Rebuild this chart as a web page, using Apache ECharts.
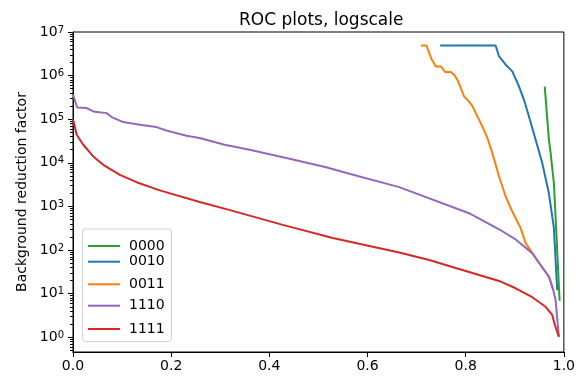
<!DOCTYPE html>
<html>
<head>
<meta charset="utf-8">
<script src="https://cdn.jsdelivr.net/npm/echarts@6/dist/echarts.min.js"></script>
<style>html,body{margin:0;padding:0;background:#fff;}#c{width:578px;height:376px;}</style>
</head>
<body>
<div id="c"></div>
<script>
// ---- data ----
const names = ['0000', '0010', '0011', '1110', '1111'];
const colors = ['#2ca02c', '#1f77b4', '#ff7f0e', '#9467bd', '#d62728'];

const x0000 = [0.961, 0.9695, 0.973, 0.9797, 0.9844, 0.9913];
const y0000 = [5.6e5, 3.4e4, 1.7e4, 3.4e3, 290, 6.9];

const x0010 = [0.748, 0.861, 0.868, 0.8815, 0.895, 0.9085, 0.9187, 0.9289, 0.9425, 0.9559, 0.9695, 0.9797, 0.9864];
const y0010 = [4.9e6, 4.9e6, 2.75e6, 1.78e6, 1.25e6, 5.65e5, 2.79e5, 1.16e5, 3.37e4, 9.9e3, 2.0e3, 3.2e2, 12];

const x0011 = [0.7087, 0.7202, 0.727, 0.7311, 0.7392, 0.7494, 0.7581, 0.7697, 0.7764, 0.7832, 0.79, 0.7967, 0.8035, 0.8137, 0.8238, 0.834, 0.8442, 0.8543, 0.8679, 0.8815, 0.8949, 0.912, 0.9221, 0.9478, 0.9695, 0.9783];
const y0011 = [4.9e6, 4.9e6, 3.0e6, 2.3e6, 1.62e6, 1.62e6, 1.21e6, 1.21e6, 1.05e6, 8.0e5, 5.2e5, 3.3e5, 2.8e5, 2.0e5, 1.16e5, 6.8e4, 3.7e4, 1.67e4, 4.85e3, 1.69e3, 764, 318, 144, 54, 24.6, 12.2];

const x1110 = [0, 0.0087, 0.0278, 0.0413, 0.0685, 0.0787, 0.1022, 0.1362, 0.1701, 0.1904, 0.2311, 0.2581, 0.3089, 0.3598, 0.4411, 0.5157, 0.563, 0.6646, 0.8069, 0.8679, 0.9018, 0.9356, 0.9478, 0.9695, 0.9783, 0.9831, 0.9898];
const y1110 = [3.64e5, 1.86e5, 1.8e5, 1.51e5, 1.38e5, 1.12e5, 8.6e4, 7.5e4, 6.6e4, 5.5e4, 4.2e4, 3.7e4, 2.6e4, 2.0e4, 1.24e4, 7.9e3, 5.6e3, 2.77e3, 700, 300, 175, 85, 54, 24.6, 12.2, 7.2, 1.03];

const x1111 = [0, 0.0075, 0.0209, 0.0413, 0.0616, 0.0955, 0.1295, 0.1768, 0.2581, 0.3124, 0.4274, 0.5291, 0.6646, 0.7256, 0.7933, 0.8679, 0.9018, 0.9356, 0.9628, 0.9762, 0.9817, 0.9898];
const y1111 = [1.0e5, 4.4e4, 2.6e4, 1.4e4, 9.0e3, 5.3e3, 3.6e3, 2.34e3, 1.27e3, 867, 378, 190, 88, 59, 35, 19.6, 13.3, 8.3, 5.0, 3.25, 1.92, 1.03];

const xTicks = [0, 0.2, 0.4, 0.6, 0.8, 1.0];
const yMajor = [1, 10, 100, 1e3, 1e4, 1e5, 1e6, 1e7];
const yMinor = [0.5, 0.6, 0.7, 0.8, 0.9];
for (let e = 0; e < 7; e++) for (let m = 2; m <= 9; m++) yMinor.push(m * Math.pow(10, e));

const xs = [x0000, x0010, x0011, x1110, x1111];
const ys = [y0000, y0010, y0011, y1110, y1111];

// ---- chart ----
const FONT = 'DejaVu Sans';
const chart = echarts.init(document.getElementById('c'), null, {renderer: 'canvas'});

const series = names.map((n, i) => ({
  name: n,
  type: 'line',
  data: xs[i].map((x, j) => [x, ys[i][j]]),
  xAxisIndex: 0,
  yAxisIndex: 0,
  symbol: 'none',
  showSymbol: false,
  lineStyle: {color: colors[i], width: 2},
  itemStyle: {color: colors[i]},
  color: colors[i],
  animation: false,
  z: 2 + i * 0.01
}));

const legendCenters = [246, 261.7, 284.3, 305.7, 329];
const legends = names.map((n, i) => ({
  data: [n],
  left: 87,
  top: legendCenters[i] - 7,
  padding: 0,
  itemGap: 0,
  itemWidth: 32,
  itemHeight: 14,
  selectedMode: false,
  z: 6,
  itemStyle: {opacity: 0},
  lineStyle: {width: 2},
  textStyle: {fontFamily: FONT, fontSize: 14, color: '#000', padding: [0, 0, 0, 4]}
}));

function supLabel(v) {
  const e = Math.round(Math.log10(v));
  return '{b|10}{s|' + e + '}';
}

chart.setOption({
  animation: false,
  backgroundColor: '#fff',
  title: {
    text: 'ROC plots, logscale',
    left: 234,
    top: 7,
    textStyle: {fontFamily: FONT, fontSize: 17, fontWeight: 'normal', color: '#000'}
  },
  grid: {left: 73, right: 13, top: 32, bottom: 24, show: true, borderColor: '#000', borderWidth: 1, backgroundColor: 'transparent'},
  legend: legends,
  graphic: [{
    type: 'rect',
    z: 5,
    shape: {x: 82.5, y: 229, width: 89, height: 112.5, r: 3},
    style: {fill: 'rgba(255,255,255,0.8)', stroke: '#d0d0d0', lineWidth: 1}
  }],
  xAxis: {
    type: 'value',
    min: 0, max: 1, interval: 0.2,
    axisLine: {lineStyle: {color: '#000', width: 1}},
    axisTick: {length: 5, lineStyle: {color: '#000', width: 1}},
    axisLabel: {fontFamily: FONT, fontSize: 14, color: '#000', margin: 7, formatter: v => v.toFixed(1)},
    splitLine: {show: false}
  },
  yAxis: [{
    type: 'log',
    logBase: 10,
    min: 0.46, max: 1e7,
    name: 'Background reduction factor',
    nameLocation: 'middle',
    nameRotate: 90,
    nameGap: 43,
    nameTextStyle: {fontFamily: FONT, fontSize: 14, color: '#000'},
    axisLine: {show: true, lineStyle: {color: '#000', width: 1}},
    axisTick: {length: 5, lineStyle: {color: '#000', width: 1}, customValues: yMajor},
    axisLabel: {
      customValues: yMajor,
      margin: 9,
      formatter: supLabel,
      rich: {
        b: {fontFamily: FONT, fontSize: 14, color: '#000', lineHeight: 14},
        s: {fontFamily: FONT, fontSize: 10, color: '#000', lineHeight: 10, verticalAlign: 'top'}
      }
    },
    splitLine: {show: false}
  }, {
    type: 'log',
    logBase: 10,
    min: 0.46, max: 1e7,
    position: 'left',
    axisLine: {show: false},
    axisTick: {length: 3, lineStyle: {color: '#000', width: 1}, customValues: yMinor},
    axisLabel: {show: false},
    splitLine: {show: false}
  }],
  series: series
});
</script>
</body>
</html>
